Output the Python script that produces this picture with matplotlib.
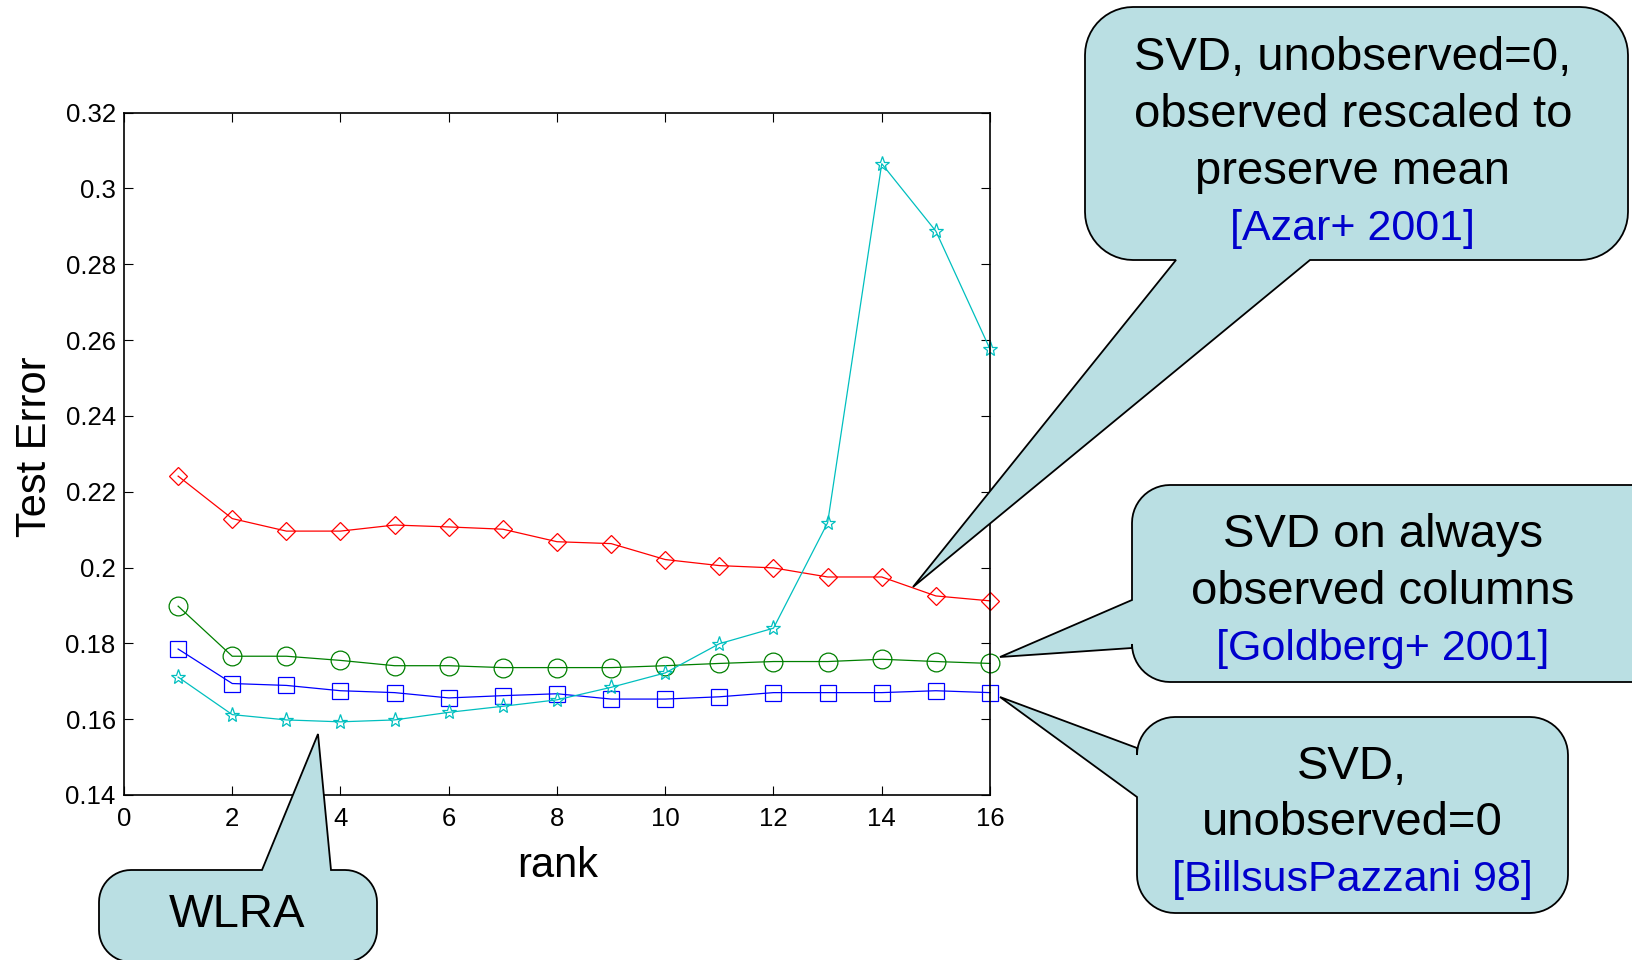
import numpy as np
import matplotlib.pyplot as plt
from matplotlib.path import Path
from matplotlib.patches import PathPatch

plt.rcParams['font.family'] = ['Liberation Sans', 'DejaVu Sans']

rank = [1, 2, 3, 4, 5, 6, 7, 8, 9, 10, 11, 12, 13, 14, 15, 16]

# test error per rank for each method
svd_rescaled = [0.2241, 0.2129, 0.2096, 0.2096, 0.2112, 0.2107, 0.2101, 0.2068,
                0.2063, 0.2021, 0.2005, 0.1999, 0.1975, 0.1975, 0.1925, 0.1912]
svd_columns = [0.1898, 0.1766, 0.1766, 0.1755, 0.1741, 0.1741, 0.1736, 0.1736,
               0.1736, 0.1741, 0.1747, 0.1752, 0.1752, 0.1758, 0.1752, 0.1747]
svd_zero = [0.1785, 0.1694, 0.1689, 0.1675, 0.1670, 0.1656, 0.1662, 0.1667,
            0.1653, 0.1653, 0.1659, 0.1670, 0.1670, 0.1670, 0.1675, 0.1670]
wlra = [0.1711, 0.1612, 0.1598, 0.1593, 0.1598, 0.1618, 0.1634, 0.1651,
        0.1684, 0.1722, 0.1799, 0.1840, 0.2118, 0.3065, 0.2887, 0.2576]

xticks = np.arange(0, 17, 2)
yticks = np.arange(0.14, 0.3201, 0.02)

W, H = 1633, 960
fig = plt.figure(figsize=(W / 100, H / 100), dpi=100)
ax = fig.add_axes([124 / W, 1 - 795 / H, 866 / W, 682.5 / H])

line_kw = dict(lw=0.9, mfc='none', mew=0.9, clip_on=False)
ax.plot(rank, svd_rescaled, color='r', marker='D', ms=9.5, **line_kw)
ax.plot(rank, svd_columns, color=(0, 0.5, 0), marker='o', ms=13.5, **line_kw)
ax.plot(rank, svd_zero, color='b', marker='s', ms=12, **line_kw)
ax.plot(rank, wlra, color=(0, 0.75, 0.75), marker='*', ms=11, **line_kw)

ax.set_xlim(0, 16)
ax.set_ylim(0.14, 0.32)
ax.set_xticks(xticks)
ax.set_yticks(yticks)
ax.set_xticklabels([f'{v:g}' for v in xticks])
ax.set_yticklabels([f'{v:g}' for v in np.round(yticks, 2)])
ax.tick_params(direction='in', top=True, right=True, length=6.5, width=0.8,
               labelsize=18.5, pad=6)
ax.tick_params(axis='x', pad=9)
for s in ax.spines.values():
    s.set_linewidth(1.2)

ax.set_xlabel('rank', fontsize=30)
ax.xaxis.set_label_coords(0.501, -0.074)
ax.set_ylabel('Test Error', fontsize=30, va='center')
ax.yaxis.set_label_coords(-0.103, 0.51)


def callout(box, r, side, a, b, tip):
    # rounded box in pixel space (y down) with a wedge pointing to tip
    x0, y0, x1, y1 = box

    def arc(cx, cy, t0, t1):
        t = np.radians(np.linspace(t0, t1, 14))
        return list(zip(cx + r * np.cos(t), cy + r * np.sin(t)))

    pts = arc(x0 + r, y0 + r, 180, 270)
    if side == 'top':
        pts += [(a, y0), tip, (b, y0)]
    pts += arc(x1 - r, y0 + r, 270, 360)
    pts += arc(x1 - r, y1 - r, 0, 90)
    if side == 'bottom':
        pts += [(b, y1), tip, (a, y1)]
    pts += arc(x0 + r, y1 - r, 90, 180)
    if side == 'left':
        pts += [(x0, b), tip, (x0, a)]
    pts.append(pts[0])
    verts = [(x / W, 1 - y / H) for x, y in pts]
    codes = [Path.MOVETO] + [Path.LINETO] * (len(verts) - 2) + [Path.CLOSEPOLY]
    patch = PathPatch(Path(verts, codes), facecolor='#BADFE3', edgecolor='black',
                      lw=1.3, transform=fig.transFigure, zorder=5, clip_on=False)
    fig.add_artist(patch)


def lines(cx, ys, texts, cite=None):
    for y, t in zip(ys, texts):
        fig.text(cx / W, 1 - y / H, t, ha='center', va='center', fontsize=34,
                 color='black', zorder=6)
    if cite:
        fig.text(cx / W, 1 - (ys[-1] + 57) / H, cite, ha='center', va='center',
                 fontsize=31, color='#0000CC', zorder=6)


callout((1085, 7, 1628, 260), 48, 'bottom', 1176, 1310, (913, 587))
lines(1353, [58, 115, 172],
      ['SVD, unobserved=0,', 'observed rescaled to', 'preserve mean'],
      '[Azar+ 2001]')

callout((1132, 485, 1700, 682), 38, 'left', 600, 648, (1000, 657))
lines(1383, [535, 592], ['SVD on always', 'observed columns'],
      '[Goldberg+ 2001]')

callout((1137, 717, 1568, 913), 38, 'left', 748, 797, (1000, 697))
lines(1352, [767, 823], ['SVD,', 'unobserved=0'], '[BillsusPazzani 98]')

callout((99, 870, 377, 962), 32, 'top', 262, 331, (318, 734))
lines(237, [915], ['WLRA'])

fig.savefig('out.png', dpi=100)
